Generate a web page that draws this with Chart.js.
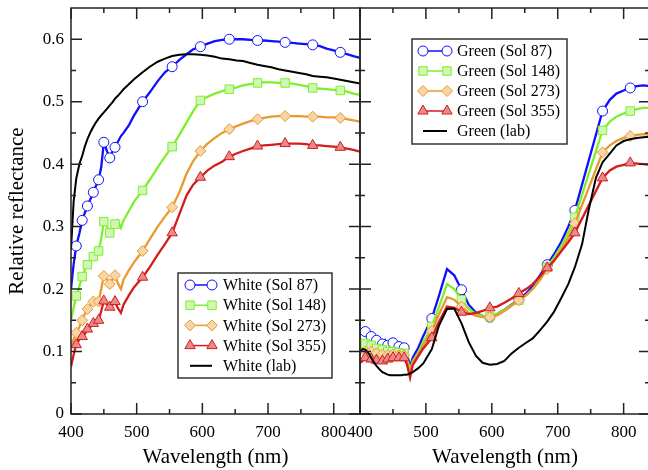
<!DOCTYPE html>
<html>
<head>
<meta charset="utf-8">
<script src="https://cdn.jsdelivr.net/npm/chart.js@4"></script>
<style>
  html, body { margin: 0; padding: 0; background: #fff; overflow: hidden; }
  #wrap { position: relative; width: 648px; height: 470px; overflow: hidden; }
  #wrap canvas { position: absolute; left: 0; top: 0; }
</style>
</head>
<body>
<div id="wrap">
  <canvas id="whiteChart" width="650" height="470"></canvas>
  <canvas id="greenChart" width="650" height="470"></canvas>
</div>
<script>
// wavelength grid (nm) shared by every spectrum
const wavelengths = [400, 404, 408, 413, 417, 421, 425, 430, 434, 438,
  442, 446, 450, 455, 459, 463, 467, 471, 476, 480,
  488, 496, 509, 520, 532, 543, 554, 565, 576, 586,
  597, 608, 619, 630, 641, 652, 662, 673, 684, 694,
  705, 716, 726, 737, 747, 758, 768, 779, 789, 800,
  810, 820, 830, 840];

// wavelengths where the plotting symbols sit
const markerWavelengths = [408, 417, 425, 434, 442, 450, 459, 467, 509, 554, 597, 641, 684, 726, 768, 810];

const whiteLabels = ['White (Sol 87)', 'White (Sol 148)', 'White (Sol 273)', 'White (Sol 355)', 'White (lab)'];
const greenLabels = ['Green (Sol 87)', 'Green (Sol 148)', 'Green (Sol 273)', 'Green (Sol 355)', 'Green (lab)'];

const whiteSol87 = [0.200, 0.240, 0.269, 0.290, 0.310, 0.322, 0.333, 0.345, 0.355, 0.365,
  0.375, 0.395, 0.435, 0.420, 0.410, 0.420, 0.427, 0.435, 0.445, 0.450,
  0.462, 0.478, 0.500, 0.515, 0.533, 0.547, 0.556, 0.567, 0.576, 0.584,
  0.588, 0.593, 0.597, 0.599, 0.600, 0.600, 0.600, 0.599, 0.598, 0.598,
  0.597, 0.596, 0.595, 0.594, 0.593, 0.592, 0.591, 0.589, 0.585, 0.582,
  0.579, 0.576, 0.573, 0.570];
const whiteSol148 = [0.151, 0.170, 0.189, 0.205, 0.220, 0.230, 0.239, 0.245, 0.252, 0.255,
  0.261, 0.280, 0.308, 0.300, 0.290, 0.295, 0.304, 0.310, 0.298, 0.310,
  0.325, 0.340, 0.358, 0.375, 0.395, 0.412, 0.428, 0.447, 0.467, 0.485,
  0.502, 0.508, 0.513, 0.517, 0.520, 0.523, 0.526, 0.528, 0.530, 0.531,
  0.531, 0.530, 0.530, 0.529, 0.527, 0.525, 0.522, 0.521, 0.520, 0.519,
  0.518, 0.516, 0.513, 0.511];
const whiteSol273 = [0.108, 0.120, 0.130, 0.140, 0.150, 0.160, 0.168, 0.175, 0.180, 0.182,
  0.180, 0.200, 0.221, 0.215, 0.208, 0.215, 0.222, 0.210, 0.200, 0.215,
  0.230, 0.243, 0.261, 0.280, 0.300, 0.316, 0.331, 0.355, 0.385, 0.405,
  0.421, 0.433, 0.442, 0.450, 0.456, 0.461, 0.465, 0.469, 0.472, 0.474,
  0.476, 0.477, 0.477, 0.477, 0.477, 0.476, 0.476, 0.476, 0.475, 0.475,
  0.474, 0.472, 0.470, 0.468];
const whiteSol355 = [0.076, 0.095, 0.111, 0.120, 0.124, 0.128, 0.136, 0.140, 0.145, 0.148,
  0.150, 0.165, 0.181, 0.175, 0.171, 0.175, 0.180, 0.170, 0.162, 0.175,
  0.190, 0.203, 0.219, 0.235, 0.255, 0.272, 0.290, 0.320, 0.350, 0.367,
  0.379, 0.390, 0.398, 0.404, 0.412, 0.417, 0.421, 0.425, 0.429, 0.430,
  0.431, 0.432, 0.433, 0.433, 0.433, 0.432, 0.430, 0.430, 0.429, 0.428,
  0.427, 0.425, 0.423, 0.420];
const whiteLab = [0.263, 0.340, 0.377, 0.401, 0.413, 0.428, 0.440, 0.452, 0.460, 0.467,
  0.473, 0.478, 0.483, 0.489, 0.494, 0.499, 0.505, 0.509, 0.515, 0.520,
  0.528, 0.536, 0.547, 0.556, 0.564, 0.569, 0.573, 0.575, 0.576, 0.576,
  0.575, 0.574, 0.572, 0.569, 0.568, 0.566, 0.565, 0.562, 0.559, 0.557,
  0.555, 0.552, 0.550, 0.548, 0.546, 0.544, 0.541, 0.540, 0.539, 0.537,
  0.535, 0.533, 0.531, 0.529];

const greenSol87 = [0.135, 0.130, 0.132, 0.128, 0.124, 0.125, 0.118, 0.120, 0.112, 0.118,
  0.110, 0.115, 0.114, 0.112, 0.108, 0.110, 0.106, 0.098, 0.075, 0.090,
  0.105, 0.125, 0.153, 0.190, 0.232, 0.222, 0.199, 0.175, 0.162, 0.157,
  0.155, 0.160, 0.167, 0.175, 0.183, 0.193, 0.205, 0.222, 0.239, 0.255,
  0.275, 0.300, 0.326, null, null, null, 0.485, 0.503, 0.513, 0.518,
  0.522, 0.525, 0.526, 0.525];
const greenSol148 = [0.118, 0.115, 0.113, 0.110, 0.110, 0.108, 0.105, 0.105, 0.103, 0.104,
  0.100, 0.102, 0.100, 0.100, 0.098, 0.100, 0.097, 0.090, 0.072, 0.085,
  0.098, 0.115, 0.140, 0.172, 0.208, 0.200, 0.183, 0.168, 0.160, 0.157,
  0.156, 0.160, 0.167, 0.174, 0.182, 0.190, 0.200, 0.215, 0.235, 0.250,
  0.268, 0.290, 0.315, null, null, null, 0.454, 0.468, 0.476, 0.481,
  0.485, 0.488, 0.490, 0.490];
const greenSol273 = [0.105, 0.100, 0.100, 0.098, 0.100, 0.096, 0.097, 0.095, 0.095, 0.096,
  0.094, 0.095, 0.095, 0.093, 0.094, 0.095, 0.094, 0.085, 0.070, 0.082,
  0.095, 0.110, 0.133, 0.160, 0.187, 0.183, 0.172, 0.162, 0.157, 0.155,
  0.155, 0.158, 0.165, 0.173, 0.182, 0.190, 0.200, 0.215, 0.232, 0.245,
  0.262, 0.282, 0.305, null, null, null, 0.419, 0.430, 0.437, 0.442,
  0.445, 0.447, 0.448, 0.447];
const greenSol355 = [0.082, 0.085, 0.090, 0.085, 0.088, 0.082, 0.086, 0.083, 0.085, 0.082,
  0.088, 0.085, 0.090, 0.088, 0.090, 0.088, 0.090, 0.080, 0.058, 0.078,
  0.092, 0.105, 0.122, 0.148, 0.172, 0.170, 0.163, 0.160, 0.162, 0.165,
  0.170, 0.172, 0.178, 0.185, 0.193, 0.200, 0.208, 0.220, 0.234, 0.245,
  0.260, 0.275, 0.290, null, null, null, 0.378, 0.390, 0.396, 0.399,
  0.402, 0.401, 0.400, 0.399];
const greenLab = [0.100, 0.104, 0.103, 0.097, 0.090, 0.083, 0.077, 0.071, 0.067, 0.065,
  0.063, 0.062, 0.062, 0.062, 0.062, 0.062, 0.063, 0.063, 0.065, 0.067,
  0.073, 0.081, 0.104, 0.142, 0.168, 0.169, 0.145, 0.115, 0.093, 0.082,
  0.079, 0.080, 0.085, 0.097, 0.106, 0.114, 0.121, 0.134, 0.148, 0.163,
  0.185, 0.208, 0.235, 0.272, 0.327, 0.378, 0.403, 0.417, 0.430, 0.437,
  0.440, 0.442, 0.443, 0.444];

// axis ticks
const xMajorTicks = [400, 500, 600, 700, 800];
const xMinorTicks = [450, 550, 650, 750];
const yMajorTicks = [0, 0.1, 0.2, 0.3, 0.4, 0.5, 0.6];
const yMinorTicks = [0.05, 0.15, 0.25, 0.35, 0.45, 0.55];

Chart.defaults.font.family = '"Liberation Serif", "DejaVu Serif", serif';
Chart.defaults.color = '#000';

const looks = [
  { color: '#1010ff', shape: 'circle', radius: 5, fill: '#ffffff' },
  { color: '#7cf02c', shape: 'rect', radius: 6, fill: '#d2f7b4' },
  { color: '#e89a2e', shape: 'rectRot', radius: 5.5, fill: '#f6d6a6' },
  { color: '#d41c1c', shape: 'triangle', radius: 6, fill: '#e98a8a' },
  { color: '#000000', shape: false, radius: 0, fill: '#000' }
];

function makeDatasets(labels, series) {
  return series.map((values, i) => {
    const look = looks[i];
    return {
      label: labels[i],
      data: wavelengths.map((x, k) => ({ x: x, y: values[k] })),
      borderColor: look.color,
      borderWidth: i === 4 ? 2 : 2.3,
      pointStyle: look.shape || 'circle',
      pointRadius: ctx => (look.shape && ctx.raw && ctx.raw.y !== null &&
        markerWavelengths.includes(ctx.raw.x)) ? look.radius : 0,
      pointBorderWidth: 1,
      pointBorderColor: look.color,
      pointBackgroundColor: look.fill,
      markerRadius: look.radius,
      tension: 0,
      spanGaps: true,
      order: 4 - i
    };
  });
}

// frame + inward tick marks on all four sides
const frameTicks = {
  id: 'frameTicks',
  afterDatasetsDraw(chart) {
    const ctx = chart.ctx;
    const a = chart.chartArea;
    const x = chart.scales.x, y = chart.scales.y;
    ctx.save();
    ctx.strokeStyle = '#222';
    ctx.lineWidth = 1.5;
    ctx.strokeRect(a.left, a.top, a.right - a.left, a.bottom - a.top);
    ctx.beginPath();
    const vx = (vals, len) => vals.forEach(v => {
      const px = x.getPixelForValue(v);
      ctx.moveTo(px, a.bottom); ctx.lineTo(px, a.bottom - len);
      ctx.moveTo(px, a.top); ctx.lineTo(px, a.top + len);
    });
    const vy = (vals, len) => vals.forEach(v => {
      const py = y.getPixelForValue(v);
      ctx.moveTo(a.left, py); ctx.lineTo(a.left + len, py);
      ctx.moveTo(a.right, py); ctx.lineTo(a.right - len, py);
    });
    vx(xMajorTicks, 11); vx(xMinorTicks, 5);
    vy(yMajorTicks, 11); vy(yMinorTicks, 5);
    ctx.stroke();
    ctx.restore();
  }
};

// boxed legend drawn inside the plot
const boxLegend = {
  id: 'boxLegend',
  afterDraw(chart, args, opts) {
    const ctx = chart.ctx;
    ctx.save();
    ctx.fillStyle = '#fff';
    ctx.fillRect(opts.x, opts.y, opts.w, opts.h);
    ctx.strokeStyle = '#333';
    ctx.lineWidth = 1.5;
    ctx.strokeRect(opts.x, opts.y, opts.w, opts.h);
    chart.data.datasets.forEach((ds, i) => {
      const yy = opts.y + opts.first + i * opts.step;
      const x1 = opts.x + opts.sym1, x2 = opts.x + opts.sym2;
      ctx.strokeStyle = ds.borderColor;
      ctx.lineWidth = i === 4 ? 2 : 1.5;
      ctx.beginPath();
      ctx.moveTo(x1, yy); ctx.lineTo(x2, yy);
      ctx.stroke();
      if (looks[i].shape) {
        ctx.fillStyle = ds.pointBackgroundColor;
        ctx.strokeStyle = ds.borderColor;
        ctx.lineWidth = 1;
        [x1, x2].forEach(px => Chart.helpers.drawPoint(ctx,
          { pointStyle: ds.pointStyle, radius: ds.markerRadius, borderWidth: 1, rotation: 0 }, px, yy));
      }
      ctx.fillStyle = '#000';
      ctx.font = '16px "Liberation Serif"';
      ctx.textBaseline = 'middle';
      ctx.textAlign = 'left';
      ctx.fillText(ds.label, opts.x + opts.text, yy + 1);
    });
    ctx.restore();
  }
};

const tickFont = { size: 17 };
const titleFont = { size: 21 };

function xAxis() {
  return {
    type: 'linear', min: 400, max: 840,
    grid: { display: false, drawTicks: false },
    border: { display: false },
    ticks: { font: tickFont, padding: 8, maxRotation: 0, autoSkip: false, callback: v => String(v) },
    afterBuildTicks: s => { s.ticks = xMajorTicks.map(v => ({ value: v })); },
    title: { display: true, text: 'Wavelength (nm)', font: titleFont, padding: { top: 0, bottom: 0 } },
    afterFit: s => { s.height = 56; s.paddingLeft = 0; s.paddingRight = 0; }
  };
}

new Chart(document.getElementById('whiteChart'), {
  type: 'line',
  data: { datasets: makeDatasets(whiteLabels, [whiteSol87, whiteSol148, whiteSol273, whiteSol355, whiteLab]) },
  options: {
    responsive: false,
    animation: false,
    layout: { padding: { left: 0, right: 290, top: 8, bottom: 0 } },
    plugins: {
      legend: { display: false },
      tooltip: { enabled: false },
      boxLegend: { x: 178, y: 273, w: 154, h: 105, first: 12, step: 20.2, sym1: 12, sym2: 34, text: 45 }
    },
    scales: {
      x: xAxis(),
      y: {
        type: 'linear', min: 0, max: 0.65,
        grid: { display: false, drawTicks: false },
        border: { display: false },
        ticks: { font: tickFont, padding: 7, callback: v => String(v) },
        afterBuildTicks: s => { s.ticks = yMajorTicks.map(v => ({ value: v })); },
        title: { display: true, text: 'Relative reflectance', font: titleFont, padding: { top: 5, bottom: 0 } },
        afterFit: s => { s.width = 71; s.paddingTop = 0; s.paddingBottom = 0; }
      }
    }
  },
  plugins: [frameTicks, boxLegend]
});

new Chart(document.getElementById('greenChart'), {
  type: 'line',
  data: { datasets: makeDatasets(greenLabels, [greenSol87, greenSol148, greenSol273, greenSol355, greenLab]) },
  options: {
    responsive: false,
    animation: false,
    layout: { padding: { left: 360, right: 0, top: 8, bottom: 0 } },
    plugins: {
      legend: { display: false },
      tooltip: { enabled: false },
      boxLegend: { x: 412, y: 39, w: 155, h: 105, first: 12, step: 20, sym1: 11, sym2: 35, text: 45 }
    },
    scales: {
      x: xAxis(),
      y: { type: 'linear', min: 0, max: 0.65, display: false }
    }
  },
  plugins: [frameTicks, boxLegend]
});
</script>
</body>
</html>
